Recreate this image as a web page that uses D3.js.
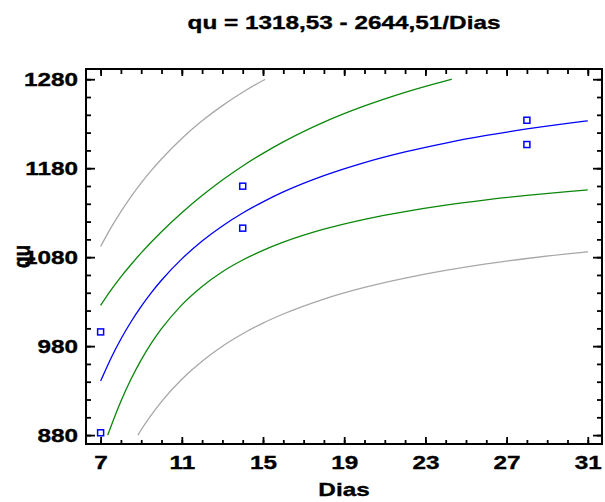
<!DOCTYPE html>
<html>
<head>
<meta charset="utf-8">
<script src="https://cdn.jsdelivr.net/npm/d3@7/dist/d3.min.js"></script>
<style>
  html, body { margin: 0; padding: 0; background: #fff; }
  svg { display: block; }
  text { font-family: "Liberation Sans", Arial, sans-serif; font-weight: bold; fill: #000;
         stroke: #000; stroke-width: 0.35px; }
</style>
</head>
<body>
<svg id="chart" width="605" height="502"></svg>
<script>
// Observed samples
const dias = [7, 7, 14, 14, 28, 28];
const qu = [882.6, 996, 1112.6, 1159.8, 1206.6, 1233.9];

// Fitted model qu = 1318,53 - 2644,51/Dias
const fitX = [7, 7.5, 8, 8.5, 9, 9.5, 10, 11, 12, 13, 14, 15, 16, 18, 20, 22, 24, 26, 28, 30, 31];
const fitY = [940.7, 965.9, 988.0, 1007.4, 1024.7, 1040.2, 1054.1, 1078.1, 1098.2, 1115.1, 1129.6,
              1142.2, 1153.3, 1171.6, 1186.3, 1198.3, 1208.3, 1216.8, 1224.1, 1230.4, 1233.2];

// Confidence limits for the mean (upper / lower)
const confUpX = [7, 7.5, 8, 8.5, 9, 9.5, 10, 11, 12, 13, 14, 15, 16, 18, 20, 22, 24, 24.3];
const confUpY = [1025.9, 1042.7, 1057.9, 1071.8, 1084.8, 1097.0, 1108.6, 1129.9, 1149.2, 1166.7,
                 1182.5, 1196.7, 1209.6, 1231.8, 1250.0, 1265.3, 1278.2, 1280.0];
const confLoX = [7.35, 7.5, 8, 8.5, 9, 9.5, 10, 11, 12, 13, 14, 15, 16, 18, 20, 22, 24, 26, 28, 30, 31];
const confLoY = [880.0, 889.2, 918.1, 943.0, 964.6, 983.3, 999.6, 1026.4, 1047.1, 1063.6, 1076.8,
                 1087.7, 1096.9, 1111.5, 1122.6, 1131.3, 1138.5, 1144.4, 1149.4, 1153.7, 1155.6];

// Prediction limits (upper / lower)
const predUpX = [7, 7.5, 8, 8.5, 9, 9.5, 10, 11, 12, 13, 14, 15, 15.1];
const predUpY = [1092.0, 1112.6, 1131.2, 1148.0, 1163.4, 1177.5, 1190.4, 1213.4, 1233.2, 1250.3,
                 1265.3, 1278.6, 1279.8];
const predLoX = [8.84, 9, 9.5, 10, 11, 12, 13, 14, 15, 16, 18, 20, 22, 24, 26, 28, 30, 31];
const predLoY = [880.0, 886.0, 902.8, 917.7, 942.8, 963.1, 979.9, 993.9, 1005.9, 1016.1, 1032.9,
                 1046.0, 1056.5, 1065.1, 1072.4, 1078.5, 1083.7, 1086.1];

// Tick values
const xMajor = [7, 11, 15, 19, 23, 27, 31];
const xMinor = d3.range(7, 32, 1);
const yMajor = [880, 980, 1080, 1180, 1280];
const yMinor = d3.range(880, 1281, 20);

const titleText = "qu = 1318,53 - 2644,51/Dias";
const xTitle = "Dias";
const yTitle = "qu";

const svg = d3.select("#chart");
const FONT = 19;
const SX = 1.28; // horizontal widening of the lettering

const x = d3.scaleLinear().domain([6.28, 31.7]).range([86, 602]);
const y = d3.scaleLinear().domain([870, 1291.5]).range([444, 69]);
const [L, R] = x.range();
const [B, T] = y.range();

// Curves
const line = d3.line().x(d => x(d[0])).y(d => y(d[1])).curve(d3.curveMonotoneX);
const curves = [
  { xs: predUpX, ys: predUpY, color: "#a8a8a8" },
  { xs: predLoX, ys: predLoY, color: "#a8a8a8" },
  { xs: confUpX, ys: confUpY, color: "#0a870a" },
  { xs: confLoX, ys: confLoY, color: "#0a870a" },
  { xs: fitX, ys: fitY, color: "#0000ff" }
];
svg.append("g").selectAll("path").data(curves).join("path")
  .attr("d", c => line(c.xs.map((v, i) => [v, c.ys[i]])))
  .attr("fill", "none")
  .attr("stroke", c => c.color)
  .attr("stroke-width", 1.3);

// Observed points: hollow squares
svg.append("g").selectAll("rect").data(dias.map((d, i) => [d, qu[i]])).join("rect")
  .attr("x", d => x(d[0]) - 3)
  .attr("y", d => y(d[1]) - 3)
  .attr("width", 6).attr("height", 6)
  .attr("fill", "none").attr("stroke", "#0000ff").attr("stroke-width", 1.5);

// Inward ticks on all four sides
function ticks(axis, vals, size, transform) {
  const g = svg.append("g").attr("transform", transform)
    .call(axis.tickValues(vals).tickSize(size).tickFormat(""));
  g.select(".domain").remove();
  g.selectAll("line").attr("stroke", "#000").attr("stroke-width", 1.8);
}
ticks(d3.axisBottom(x), xMinor, -4, `translate(0,${B})`);
ticks(d3.axisBottom(x), xMajor, -7, `translate(0,${B})`);
ticks(d3.axisTop(x), xMinor, -5, `translate(0,${T})`);
ticks(d3.axisTop(x), xMajor, -7, `translate(0,${T})`);
ticks(d3.axisLeft(y), yMinor, -5, `translate(${L},0)`);
ticks(d3.axisLeft(y), yMajor, -9, `translate(${L},0)`);
ticks(d3.axisRight(y), yMinor, -5, `translate(${R},0)`);
ticks(d3.axisRight(y), yMajor, -9, `translate(${R},0)`);

// Frame
svg.append("rect")
  .attr("x", L).attr("y", T).attr("width", R - L).attr("height", B - T)
  .attr("fill", "none").attr("stroke", "#000").attr("stroke-width", 2);

// Tick labels
const gx = svg.append("g").attr("transform", `translate(0,${B})`)
  .call(d3.axisBottom(x).tickValues(xMajor).tickSize(0).tickPadding(12).tickFormat(d3.format("d")));
gx.select(".domain").remove();
gx.selectAll("text").attr("font-size", FONT).attr("font-family", null)
  .attr("transform", `scale(${SX},1)`);

const gy = svg.append("g").attr("transform", `translate(${L},0)`)
  .call(d3.axisLeft(y).tickValues(yMajor).tickSize(0).tickPadding(8).tickFormat(d3.format("d")));
gy.select(".domain").remove();
gy.selectAll("text").attr("font-size", FONT).attr("font-family", null)
  .attr("x", -8 / SX).attr("dy", "0.34em")
  .attr("transform", `scale(${SX},1)`);

// Titles
svg.append("text")
  .attr("transform", `translate(${(L + R) / 2},29) scale(${SX},1)`)
  .attr("text-anchor", "middle").attr("font-size", FONT).text(titleText);
svg.append("text")
  .attr("transform", `translate(${(L + R) / 2},496) scale(${SX},1)`)
  .attr("text-anchor", "middle").attr("font-size", FONT).text(xTitle);
svg.append("text")
  .attr("transform", `translate(30,${(T + B) / 2}) rotate(-90) scale(1,${SX})`)
  .attr("text-anchor", "middle").attr("font-size", FONT).text(yTitle);
</script>
</body>
</html>
